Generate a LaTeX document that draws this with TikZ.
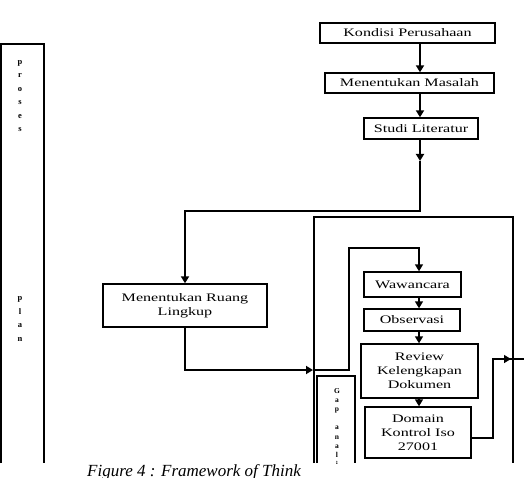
\documentclass[tikz,border=0pt]{standalone}
\usepackage{fontspec}
\setmainfont{Liberation Serif}
\newfontfamily\boxfont[FakeStretch=1.4]{Liberation Serif}
\usetikzlibrary{arrows.meta}
\tikzset{
  boxs/.style={draw, line width=1.4pt, inner sep=0pt, align=center,
    font=\boxfont\fontsize{11.5}{14}\selectfont},
  conn/.style={line width=1.8pt},
  iconn/.style={line width=1.4pt},
  frame/.style={line width=2.4pt},
  arr/.style={-{Triangle[width=8pt,length=7pt]}},
  vtext/.style={inner sep=0pt, align=center, font=\fontsize{8.5}{13.5}\selectfont\bfseries},
  gtext/.style={inner sep=0pt, align=center, anchor=north, font=\fontsize{7.5}{9.2}\selectfont\bfseries},
  captext/.style={inner sep=0pt, anchor=base west, font=\fontsize{17}{20}\selectfont\itshape}
}
\begin{document}
\begin{tikzpicture}[x=1pt,y=-1pt]
\useasboundingbox (0,0) rectangle (524,478);
\fill[white] (0,0) rectangle (524,478);

% frames (open at the bottom, cut off)
\draw[frame] (1,463) -- (1,44) -- (44,44) -- (44,463);
\draw[frame] (314,463) -- (314,217) -- (513,217) -- (513,463);
\draw[frame] (317,463) -- (317,376) -- (355,376) -- (355,463);

% left labels
\node[vtext] (proses) at (20,96) {p\\r\\o\\s\\e\\s};
\node[vtext] (plan) at (20,319) {p\\l\\a\\n};
\begin{scope}
\clip (317,376) rectangle (355,463);
\node[gtext] (gap) at (337,388) {G\\a\\p\\[9.2pt]a\\n\\a\\l\\i\\s\\i\\s};
\end{scope}

% boxes
\node[boxs, minimum width=175pt, minimum height=20pt] (kondisi) at (407.5,33) {Kondisi Perusahaan};
\node[boxs, minimum width=169pt, minimum height=20pt] (masalah) at (409.5,83) {Menentukan Masalah};
\node[boxs, minimum width=114pt, minimum height=21pt] (studi) at (421,128.5) {Studi Literatur};
\node[boxs, minimum width=164pt, minimum height=43pt] (ruang) at (185,305.5) {Menentukan Ruang\\Lingkup};
\node[boxs, minimum width=97pt, minimum height=25pt] (wawancara) at (412.5,284.5) {Wawancara};
\node[boxs, minimum width=96pt, minimum height=22pt] (observasi) at (412,320) {Observasi};
\node[boxs, minimum width=117pt, minimum height=54pt] (review) at (419.5,371) {Review\\Kelengkapan\\Dokumen};
\node[boxs, minimum width=106pt, minimum height=51pt] (domain) at (418,432.5) {Domain\\Kontrol Iso\\27001};

% coordinates
\coordinate (topx) at (420,0);
\coordinate (inx) at (419,0);
\coordinate (c1) at (420,161);
\coordinate (c2) at (420,211);
\coordinate (c3) at (313,370);
\coordinate (c4) at (349,248);
\coordinate (c5) at (493,438);
\coordinate (c6) at (511,359);
\coordinate (c7) at (524,359);

% connectors
\draw[conn,arr] (kondisi.south -| topx) -- (masalah.north -| topx);
\draw[conn,arr] (masalah.south -| topx) -- (studi.north -| topx);
\draw[conn,arr] (studi.south -| topx) -- (c1);
\draw[conn,arr] (c1) -- (c2) -| (ruang.north);
\draw[conn,arr] (ruang.south) |- (c3);
\draw[iconn,arr] (c3) -| (c4) -| (wawancara.north -| inx);
\draw[iconn,arr] (wawancara.south -| inx) -- (observasi.north -| inx);
\draw[iconn,arr] (observasi.south -| inx) -- (review.north -| inx);
\draw[iconn,arr] (review.south -| inx) -- (domain.north -| inx);
\draw[iconn] (domain.east |- c5) -- (c5) |- (c7);
\draw[iconn,arr] (c5 |- c6) -- (c6);

% caption
\node[captext] (caption) at (87,476) {Figure 4 : Framework of Think};
\end{tikzpicture}
\end{document}
